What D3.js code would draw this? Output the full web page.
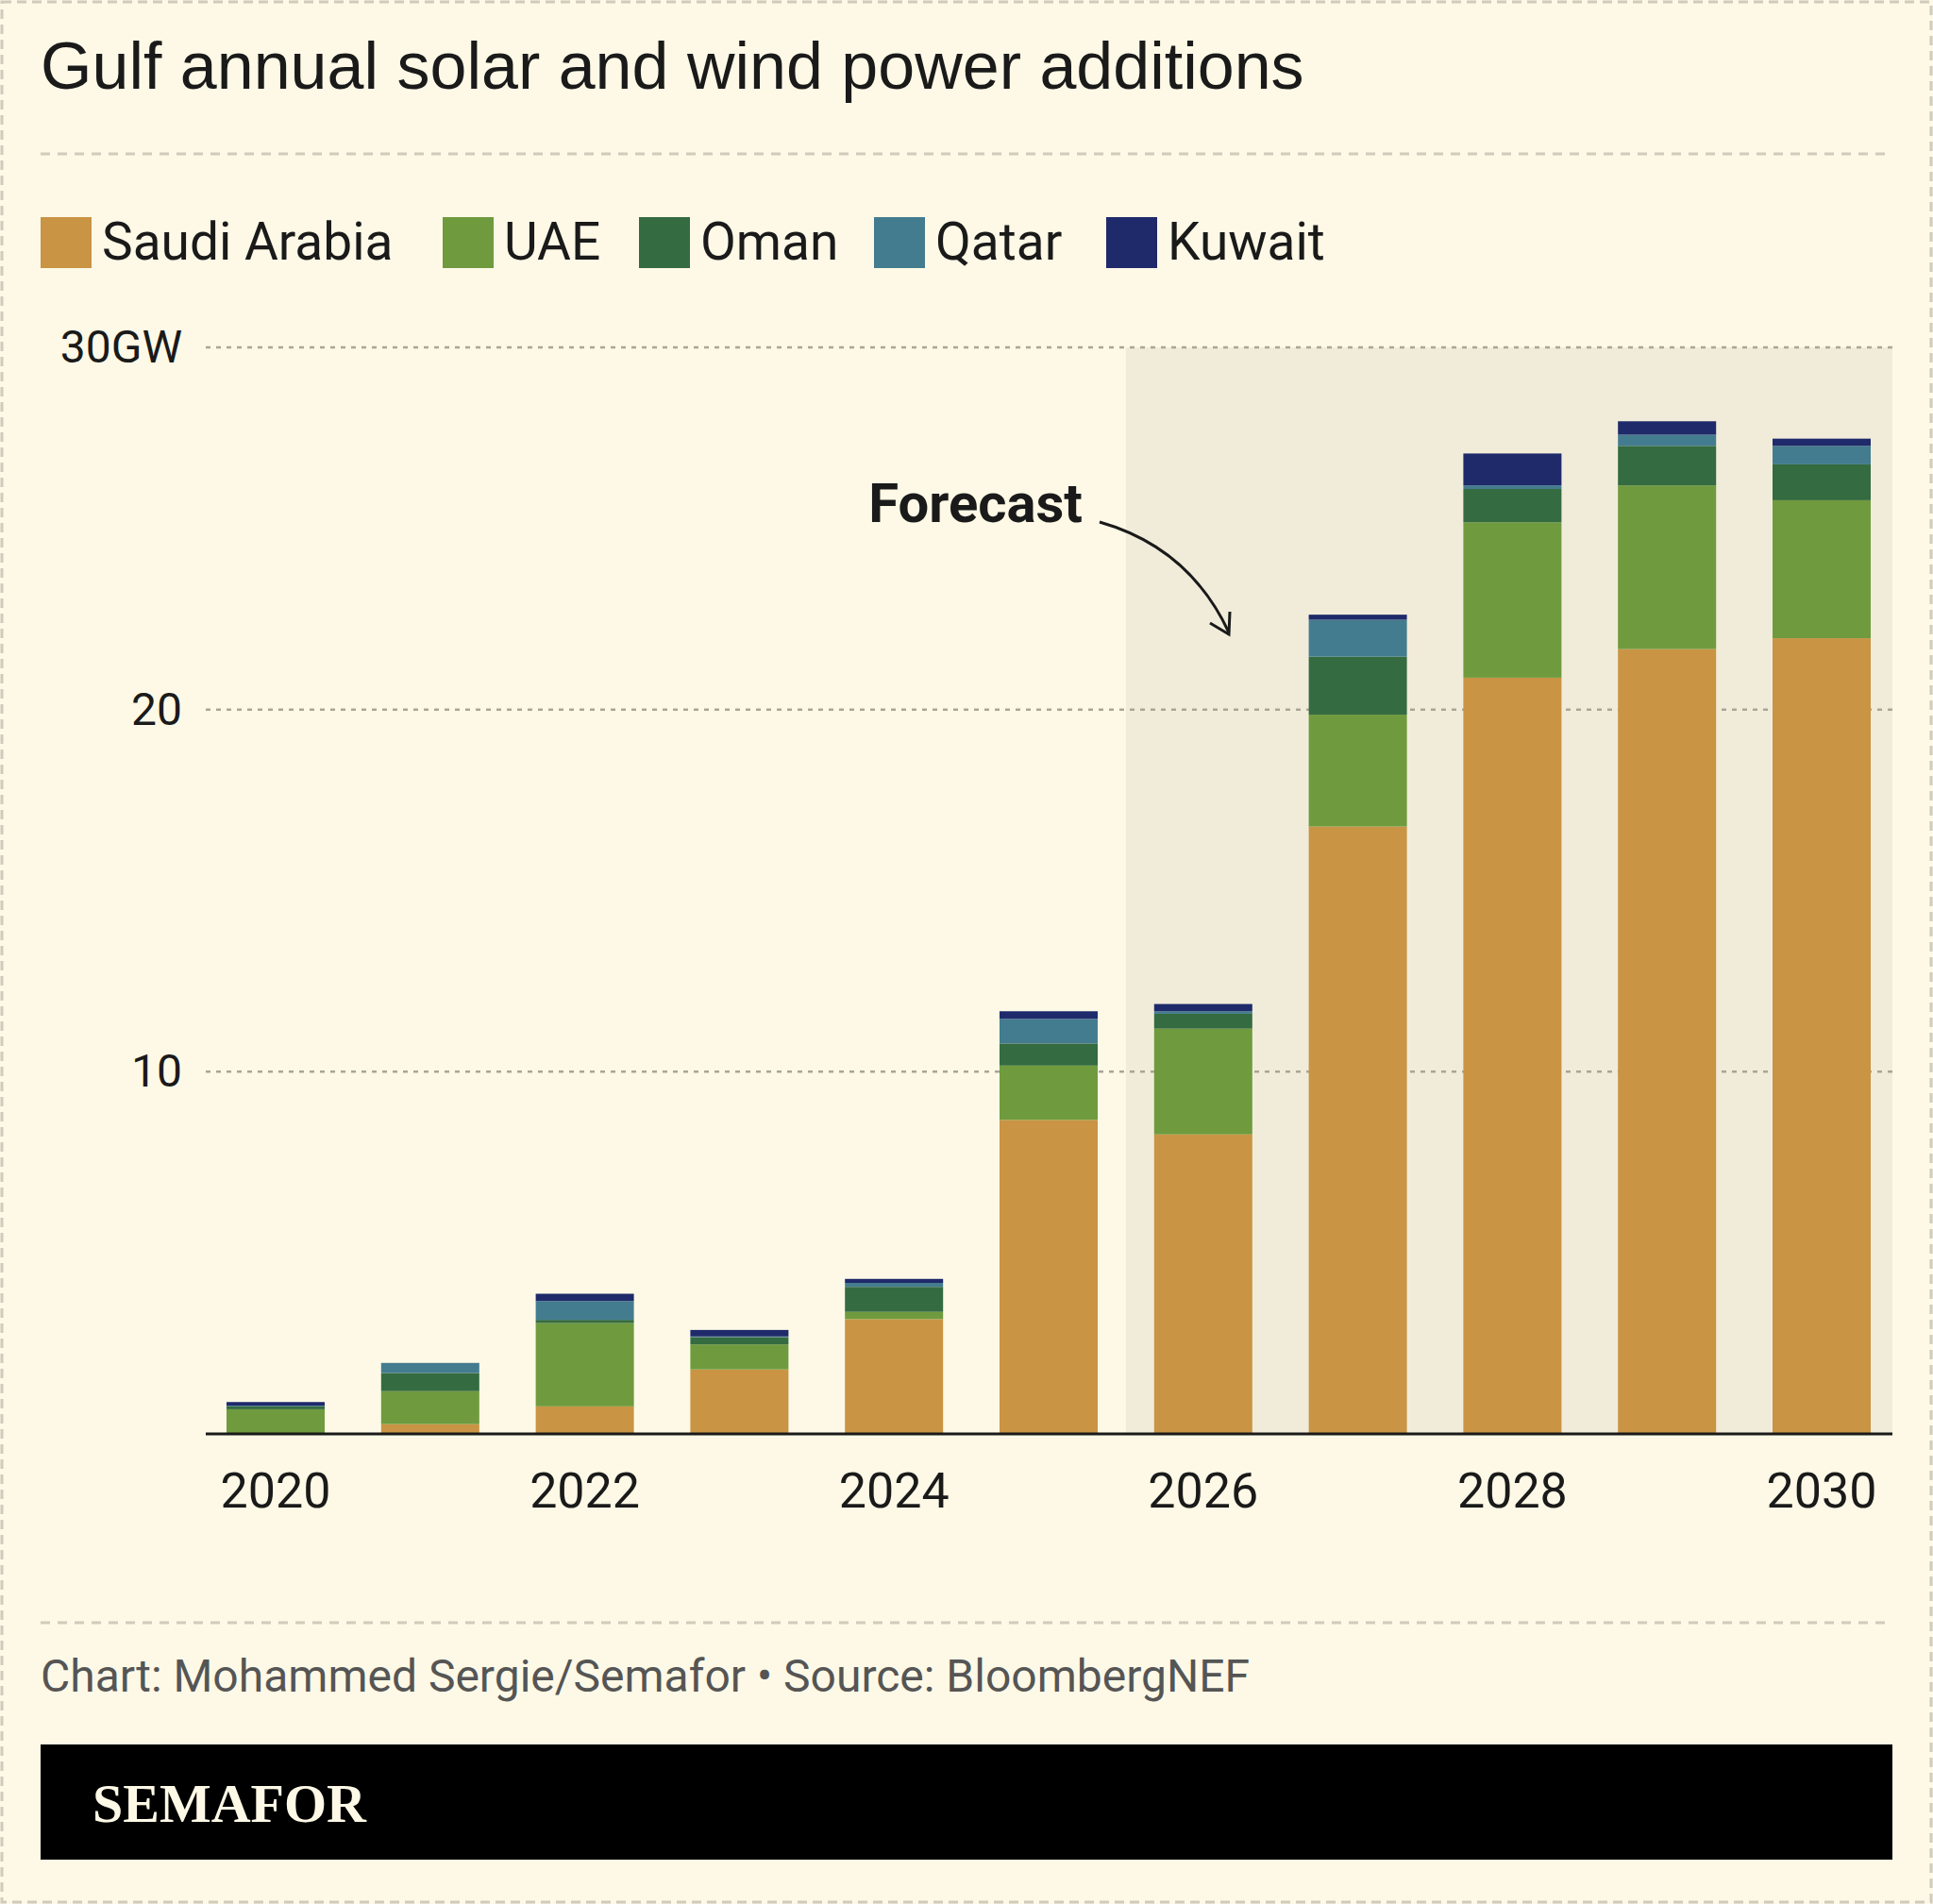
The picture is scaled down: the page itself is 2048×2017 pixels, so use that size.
<!DOCTYPE html>
<html><head><meta charset="utf-8">
<script src="https://cdn.jsdelivr.net/npm/d3@7"></script>
<style>body{margin:0;background:#fdf9e6;}</style>
</head><body>
<script>
const years = [2020, 2021, 2022, 2023, 2024, 2025, 2026, 2027, 2028, 2029, 2030];
const countries = ["Saudi Arabia", "UAE", "Oman", "Qatar", "Kuwait"];
const colors = ["#c99444", "#6f9b3e", "#356b40", "#447c8f", "#1f2a6b"];
const saudi  = [0,    0.27, 0.76, 1.78, 3.17, 8.67, 8.27, 16.77, 20.88, 21.67, 21.97];
const uae    = [0.68, 0.91, 2.30, 0.69, 0.20, 1.50, 2.92, 3.09, 4.29, 4.52, 3.81];
const oman   = [0.08, 0.50, 0.09, 0.20, 0.69, 0.61, 0.41, 1.60, 0.92, 1.09, 0.99];
const qatar  = [0.02, 0.28, 0.52, 0.02, 0.11, 0.68, 0.07, 1.02, 0.10, 0.31, 0.51];
const kuwait = [0.10, 0,    0.20, 0.18, 0.11, 0.21, 0.20, 0.14, 0.88, 0.37, 0.20];
const yTicks = [10, 20, 30];
const xTicks = [2020, 2022, 2024, 2026, 2028, 2030];

const W = 2048, H = 2017;
const svg = d3.select("body").append("svg").attr("width", W).attr("height", H);
svg.append("rect").attr("x", 2).attr("y", 2).attr("width", W - 4).attr("height", H - 4)
  .attr("fill", "#fdf9e6").attr("stroke", "#cfcbbd").attr("stroke-width", 3).attr("stroke-dasharray", "10,6");

const cond = "'Liberation Sans Narrow', 'Roboto', sans-serif";
svg.append("text").attr("x", 43).attr("y", 94).attr("font-family", "'Liberation Sans', Arial, sans-serif")
  .attr("font-size", 70).attr("fill", "#1a1a1a").text("Gulf annual solar and wind power additions");
[163, 1719].forEach(y => svg.append("line").attr("x1", 43).attr("x2", 2005).attr("y1", y).attr("y2", y)
  .attr("stroke", "#cfcbbd").attr("stroke-width", 3).attr("stroke-dasharray", "10,8"));

const legX = [43, 469, 677, 926, 1172];
countries.forEach((c, i) => {
  const g = svg.append("g").attr("transform", `translate(${legX[i]},230)`);
  g.append("rect").attr("width", 54).attr("height", 54).attr("fill", colors[i]);
  g.append("text").attr("x", 65).attr("y", 45).attr("font-family", cond).attr("font-size", 55)
    .attr("fill", "#1a1a1a").text(c);
});

const bw = 104;
const x = d3.scalePoint().domain(years).range([292, 1930]);
const y = d3.scaleLinear().domain([0, 30]).range([1519, 368]);

const shadeX = (x(2025) + x(2026)) / 2;
svg.append("rect").attr("x", shadeX).attr("y", y(30))
  .attr("width", 2005 - shadeX).attr("height", y(0) - y(30)).attr("fill", "#f1ecda");

yTicks.forEach(t => {
  svg.append("line").attr("x1", 218).attr("x2", 2005).attr("y1", y(t)).attr("y2", y(t))
    .attr("stroke", "#a9a697").attr("stroke-width", 2.5).attr("stroke-dasharray", "5,6");
  svg.append("text").attr("x", 193).attr("y", y(t) + 16).attr("text-anchor", "end")
    .attr("font-family", cond).attr("font-size", 48).attr("fill", "#1a1a1a").text(t === 30 ? "30GW" : t);
});

const rows = years.map((yr, i) => ({year: yr, "Saudi Arabia": saudi[i], UAE: uae[i], Oman: oman[i], Qatar: qatar[i], Kuwait: kuwait[i]}));
const stack = d3.stack().keys(countries)(rows);
svg.append("g").selectAll("g").data(stack).join("g").attr("fill", (d, i) => colors[i])
  .selectAll("rect").data(d => d).join("rect")
  .attr("x", d => x(d.data.year) - bw / 2).attr("width", bw)
  .attr("y", d => y(d[1])).attr("height", d => y(d[0]) - y(d[1]));

svg.append("line").attr("x1", 218).attr("x2", 2005).attr("y1", y(0)).attr("y2", y(0))
  .attr("stroke", "#1a1a1a").attr("stroke-width", 3);
xTicks.forEach(t => svg.append("text").attr("x", x(t)).attr("y", 1597)
  .attr("text-anchor", "middle").attr("font-family", cond).attr("font-size", 52).attr("fill", "#1a1a1a").text(t));

svg.append("text").attr("x", 1147).attr("y", 553).attr("text-anchor", "end").attr("font-family", cond)
  .attr("font-weight", "bold").attr("font-size", 58).attr("fill", "#1a1a1a").text("Forecast");
svg.append("path").attr("d", "M1165,553 Q1260,580 1302,670").attr("fill", "none")
  .attr("stroke", "#1a1a1a").attr("stroke-width", 3);
svg.append("path").attr("d", "M1282,660 L1302,672 L1303,648").attr("fill", "none")
  .attr("stroke", "#1a1a1a").attr("stroke-width", 3);

svg.append("text").attr("x", 43).attr("y", 1792).attr("font-family", cond).attr("font-size", 48)
  .attr("fill", "#555").text("Chart: Mohammed Sergie/Semafor • Source: BloombergNEF");
svg.append("rect").attr("x", 43).attr("y", 1848).attr("width", 1962).attr("height", 122).attr("fill", "#000");
svg.append("text").attr("x", 98).attr("y", 1930).attr("font-family", "'Liberation Serif', 'DejaVu Serif', serif")
  .attr("font-weight", "bold").attr("font-size", 58).attr("fill", "#fdf9e6").text("SEMAFOR");
</script>
</body></html>
